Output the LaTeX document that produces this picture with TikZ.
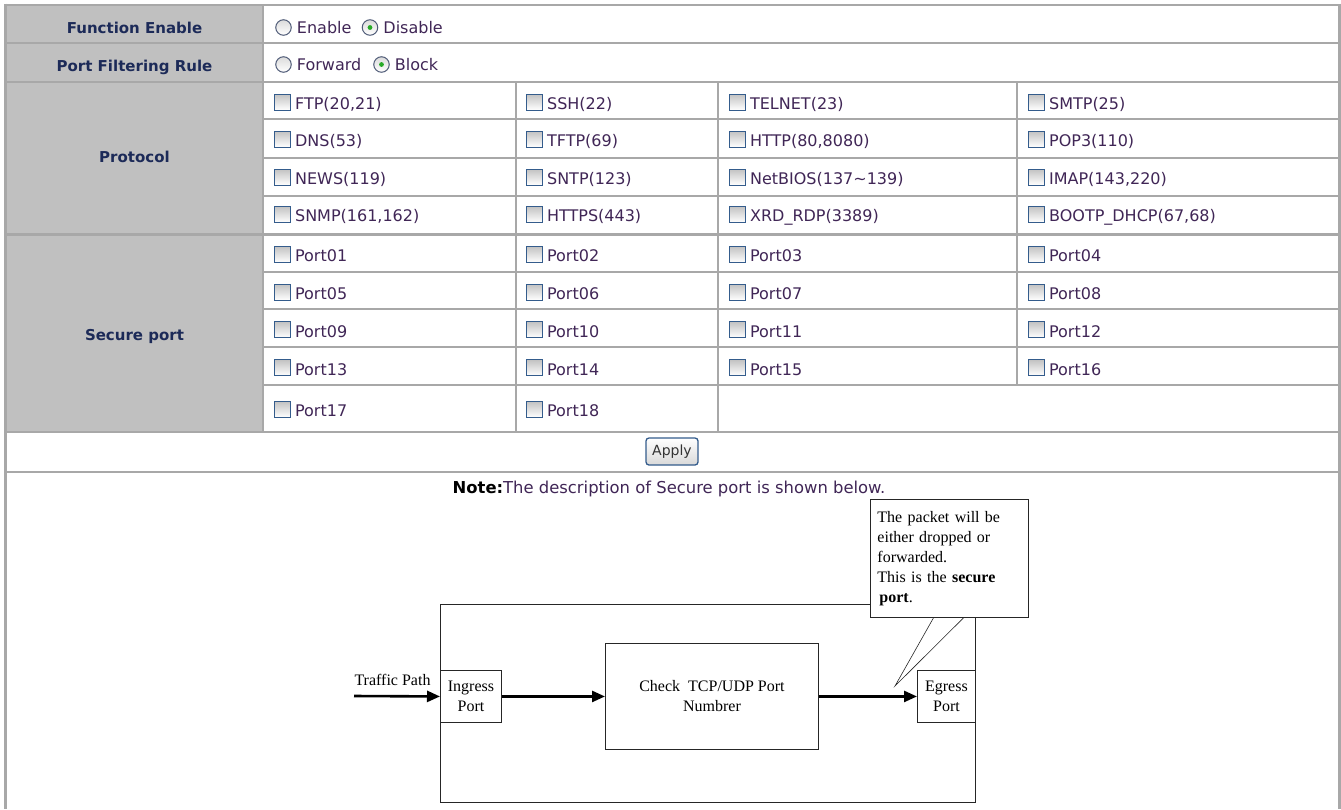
\documentclass[tikz,border=0pt]{standalone}
\usepackage{fontspec}
\setmainfont{DejaVu Sans}
\newfontfamily\figfont{Liberation Serif}
\usetikzlibrary{positioning,arrows.meta,calc}

\definecolor{hdrgray}{RGB}{192,192,192}
\definecolor{rulegray}{RGB}{168,168,168}
\definecolor{hdrnavy}{RGB}{28,42,88}
\definecolor{cellpurple}{RGB}{64,38,86}
\definecolor{boxblue}{RGB}{52,92,140}
\definecolor{radiorim}{RGB}{80,92,120}
\definecolor{dotgreen}{RGB}{40,170,40}

\tikzset{
  rule/.style={rulegray, line width=2pt},
  hdr/.style={font=\fontsize{15}{18}\selectfont\bfseries, text=hdrnavy, inner sep=0pt, anchor=base},
  cell/.style={font=\fontsize{16}{18}\selectfont, text=cellpurple, inner sep=0pt,
    text height=14.6pt, text depth=0pt},
  notetext/.style={font=\fontsize{16.4}{18}\selectfont, text=cellpurple, inner sep=0pt, anchor=base},
  chkbox/.style={draw=boxblue, line width=0.9pt, minimum size=16pt, inner sep=0pt,
    top color=black!24, bottom color=white, anchor=west},
  radio/.style={circle, draw=radiorim, line width=1pt, minimum size=15.5pt, inner sep=0pt,
    top color=black!14, bottom color=white},
  radioon/.style={radio, path picture={\fill[dotgreen] (path picture bounding box.center) circle (2.4pt);}},
  applybtn/.style={draw=boxblue, line width=1.3pt, rounded corners=3pt, top color=white,
    bottom color=black!15, minimum width=52pt, minimum height=27pt, inner sep=0pt,
    font=\fontsize{14}{16}\selectfont, text=black!80},
  figbox/.style={draw=black!85, line width=0.9pt, anchor=north west, inner sep=0pt,
    font=\figfont\fontsize{16}{20}\selectfont, align=center},
  figtext/.style={font=\figfont\fontsize{16}{20}\selectfont, inner sep=0pt},
  flow/.style={line width=2.6pt, -{Triangle[length=13pt,width=11pt]}},
}

\begin{document}
\begin{tikzpicture}[x=1pt,y=-1pt]
\useasboundingbox (0,0) rectangle (1341,809);
% header column
\fill[hdrgray] (6,5) rectangle (263,432);
% table rules
\foreach \y in {5,43,82,432,472} \draw[rule] (5,\y) -- (1339,\y);
\foreach \y in {119,158,196,272,309,347,385} \draw[rule] (263,\y) -- (1339,\y);
\draw[rulegray, line width=3pt] (5,234) -- (1339,234);
\draw[rule] (263,5) -- (263,432);
\foreach \x in {516,718} \draw[rule] (\x,82) -- (\x,432);
\draw[rule] (1017,82) -- (1017,385);
\draw[rulegray, line width=3pt] (5,3.5) -- (5,809);
\draw[rulegray, line width=3pt] (1339,3.5) -- (1339,809);

% row headers
\node[hdr] (hfunc) at (134.5,33.3) {Function Enable};
\node[hdr] (hrule) at (134.5,71.5) {Port Filtering Rule};
\node[hdr] (hproto) at (134.5,162.5) {Protocol};
\node[hdr] (hsec) at (134.5,340) {Secure port};

% radio buttons
\node[radio] (ren) at (283.5,27.5) {};
\node[cell, right=5pt of ren, yshift=1.5pt] (len) {Enable};
\node[radioon] (rdis) at (370,27.5) {};
\node[cell, right=5pt of rdis, yshift=1.5pt] (ldis) {Disable};
\node[radio] (rfwd) at (283.5,64.5) {};
\node[cell, right=5pt of rfwd, yshift=1.5pt] (lfwd) {Forward};
\node[radioon] (rblk) at (381.5,64.5) {};
\node[cell, right=5pt of rblk, yshift=1.5pt] (lblk) {Block};

% protocol check boxes
\foreach \lbl [count=\i from 0] in {{FTP(20,21)},{SSH(22)},{TELNET(23)},{SMTP(25)},
    {DNS(53)},{TFTP(69)},{HTTP(80,8080)},{POP3(110)},
    {NEWS(119)},{SNTP(123)},{NetBIOS(137\textasciitilde139)},{IMAP(143,220)},
    {SNMP(161,162)},{HTTPS(443)},{XRD\_RDP(3389)},{BOOTP\_DHCP(67,68)}}{
  \pgfmathtruncatemacro{\pcol}{mod(\i,4)}
  \pgfmathtruncatemacro{\prow}{div(\i,4)}
  \pgfmathsetmacro{\bx}{{274,526,729,1028}[\pcol]}
  \pgfmathsetmacro{\by}{{102,139.2,177,214.4}[\prow]}
  \node[chkbox] (pbox\i) at (\bx,\by) {};
  \node[cell, right=4pt of pbox\i] (plbl\i) {\lbl};
}

% secure port check boxes
\foreach \n in {1,...,18}{
  \pgfmathtruncatemacro{\pcol}{mod(\n-1,4)}
  \pgfmathtruncatemacro{\prow}{div(\n-1,4)}
  \pgfmathsetmacro{\bx}{{274,526,729,1028}[\pcol]}
  \pgfmathsetmacro{\by}{{254.4,292,329.7,367.7,409.4}[\prow]}
  \node[chkbox] (sbox\n) at (\bx,\by) {};
  \node[cell, right=4pt of sbox\n] (slbl\n) {Port\ifnum\n<10 0\fi\n};
}

% apply button and note
\node[applybtn] (apply) at (672,451.5) {Apply};
\node[notetext] (note) at (669,493)
  {\textcolor{black}{\bfseries Note:}The description of Secure port is shown below.};

% secure port diagram
\node[figbox, minimum width=535pt, minimum height=198pt] (switch) at (440,604) {};
\node[figbox, minimum width=61pt, minimum height=52pt] (ingress) at (440,670) {Ingress\\Port};
\node[figbox, minimum width=213pt, minimum height=106pt] (check) at (605,643)
  {Check\ \ TCP/UDP Port\\Numbrer};
\node[figbox, minimum width=58pt, minimum height=52pt] (egress) at (917,670) {Egress\\Port};
\coordinate (tpstart) at (354,696);
\node[figtext] (tplbl) at (392.5,680) {Traffic Path};
\draw[flow] (tpstart) -- (ingress.west);
\draw[flow] (ingress) -- (check);
\draw[flow] (check) -- (egress);

% callout
\node[figbox, fill=white, align=left, minimum width=158pt, minimum height=118pt,
  text width=144pt, inner xsep=7pt] (callout) at (870,499)
  {The packet will be\\either dropped or\\forwarded.\\This is the \textbf{secure}\\
   \hspace{2pt}\textbf{port}.};
\coordinate (tip) at (895,686);
\draw[black!85, line width=0.6pt] ($(callout.south)+(-16,0)$) -- (tip)
  -- ($(callout.south)+(14,0)$);
\end{tikzpicture}
\end{document}
